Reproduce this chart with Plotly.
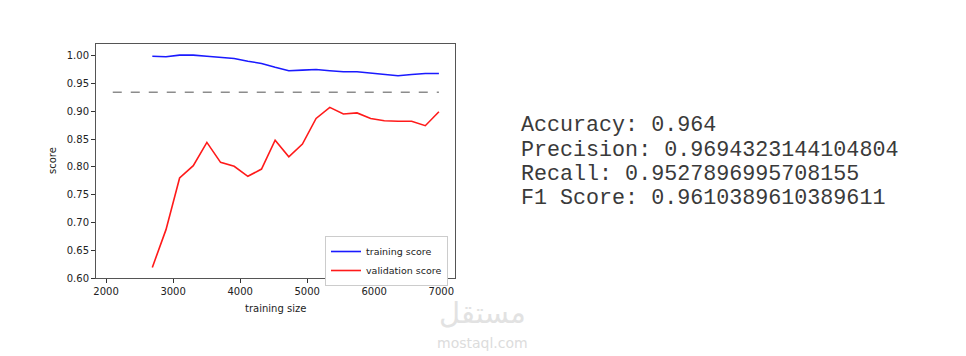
import plotly.graph_objects as go

train_sizes = [2690, 2894, 3097, 3301, 3504, 3708, 3911, 4115, 4319, 4522, 4726,
               4929, 5133, 5337, 5540, 5744, 5947, 6151, 6355, 6558, 6762, 6965]
training_score = [0.999, 0.998, 1.001, 1.001, 0.999, 0.997, 0.995, 0.990, 0.986, 0.979, 0.973,
                  0.974, 0.975, 0.973, 0.971, 0.971, 0.969, 0.966, 0.964, 0.966, 0.968, 0.968]
validation_score = [0.619, 0.687, 0.780, 0.802, 0.844, 0.808, 0.801, 0.783, 0.796, 0.848, 0.818,
                    0.841, 0.887, 0.907, 0.895, 0.897, 0.887, 0.883, 0.882, 0.882, 0.874, 0.899]
baseline_x = [2100, 6965]
baseline_y = [0.934, 0.934]

metrics_labels = ["Accuracy", "Precision", "Recall", "F1 Score"]
metrics_values = ["0.964", "0.9694323144104804", "0.9527896995708155", "0.9610389610389611"]

W, H = 966, 356
fig = go.Figure()
fig.add_trace(go.Scatter(x=baseline_x, y=baseline_y, mode="lines", showlegend=False,
                         line=dict(color="#8c8c8c", width=1.5, dash="dash"), hoverinfo="skip"))
fig.add_trace(go.Scatter(x=train_sizes, y=training_score, mode="lines", name="training score",
                         line=dict(color="#1a1aff", width=1.6)))
fig.add_trace(go.Scatter(x=train_sizes, y=validation_score, mode="lines", name="validation score",
                         line=dict(color="#ff1a1a", width=1.6)))

def px_x(p):
    return p / W

def px_y(p):
    return 1 - p / H

tick_font = dict(family="DejaVu Sans", size=10, color="#222")
fig.update_layout(
    width=W, height=H,
    margin=dict(l=0, r=0, t=0, b=0, autoexpand=False),
    paper_bgcolor="white", plot_bgcolor="white",
    xaxis=dict(domain=[px_x(96), px_x(455)], range=[1850, 7205], automargin=False,
               tickvals=[2000, 3000, 4000, 5000, 6000, 7000],
               ticks="outside", ticklen=4, tickcolor="#333", tickfont=tick_font,
               showgrid=False, zeroline=False, showline=True, linecolor="#555",
               linewidth=1, mirror=True),
    yaxis=dict(domain=[px_y(278), px_y(44)], range=[0.60, 1.021], automargin=False,
               tickvals=[0.60, 0.65, 0.70, 0.75, 0.80, 0.85, 0.90, 0.95, 1.00],
               tickformat=".2f",
               ticks="outside", ticklen=4, tickcolor="#333", tickfont=tick_font,
               showgrid=False, zeroline=False, showline=True, linecolor="#555",
               linewidth=1, mirror=True),
    legend=dict(x=px_x(325), y=px_y(236), xanchor="left", yanchor="top",
                bordercolor="#cccccc", borderwidth=1, bgcolor="white",
                font=dict(family="DejaVu Sans", size=9.5, color="#222"),
                itemwidth=30, tracegroupgap=0),
    showlegend=True,
)

annotations = [
    dict(text="score", x=px_x(52), y=px_y(161), xref="paper", yref="paper",
         xanchor="center", yanchor="middle",
         textangle=-90, showarrow=False, font=dict(family="DejaVu Sans", size=10, color="#222")),
    dict(text="training size", x=px_x(275), y=px_y(308), xref="paper", yref="paper",
         xanchor="center", yanchor="middle",
         showarrow=False, font=dict(family="DejaVu Sans", size=10, color="#222")),
]
line_y = [125, 150, 174, 198]
for lbl, val, yy in zip(metrics_labels, metrics_values, line_y):
    annotations.append(dict(text=f"{lbl}: {val}", x=px_x(519), y=px_y(yy), xref="paper",
                            yref="paper", xanchor="left", yanchor="middle", showarrow=False,
                            font=dict(family="Liberation Mono", size=21.7, color="#3a3a3a")))
annotations.append(dict(text="مستقل", x=px_x(482), y=px_y(313), xref="paper", yref="paper",
                        xanchor="center", yanchor="middle",
                        showarrow=False, font=dict(family="DejaVu Sans", size=29, color="#e2e2e2")))
annotations.append(dict(text="mostaql.com", x=px_x(482), y=px_y(343), xref="paper", yref="paper",
                        xanchor="center", yanchor="middle",
                        showarrow=False, font=dict(family="DejaVu Sans", size=14, color="#dcdcdc")))
fig.update_layout(annotations=annotations)

fig.write_html("out.html")
